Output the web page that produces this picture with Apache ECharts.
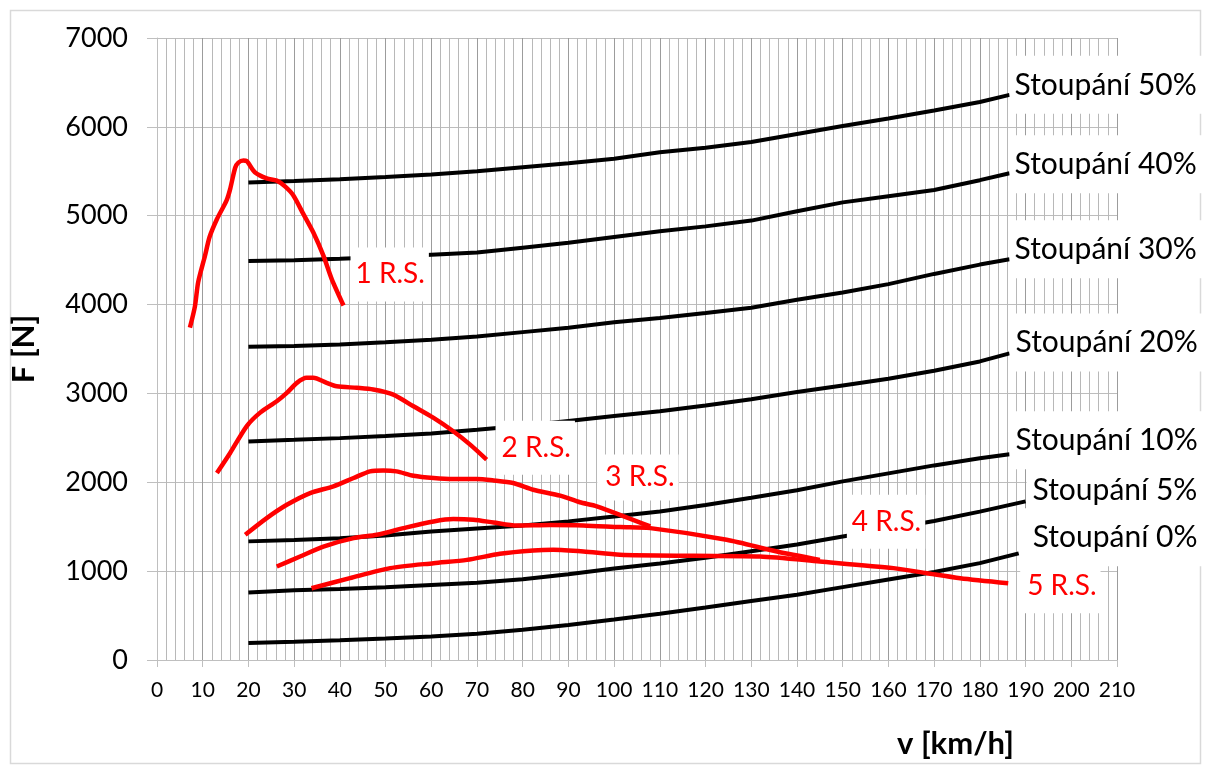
<!DOCTYPE html>
<html><head><meta charset="utf-8">
<script src="https://cdn.jsdelivr.net/npm/echarts@6/dist/echarts.min.js"></script>
<style>html,body{margin:0;padding:0;background:#fff}#c{width:1206px;height:769px}</style>
</head><body><div id="c"></div>
<script>
// Tick labels
const xTicks = [0,10,20,30,40,50,60,70,80,90,100,110,120,130,140,150,160,170,180,190,200,210];
const yTicks = [0,1000,2000,3000,4000,5000,6000,7000];

// Grade (Stoupání) curves: speed [km/h] and force [N]
const vGrade = [20,30,40,50,60,70,80,90,100,110,120,130,140,150,160,170,180,186.5];
const v5 = [20,30,40,50,60,70,80,90,100,110,120,130,140,150,160,170,180,190];
const v0 = [20,30,40,50,60,70,80,90,100,110,120,130,140,150,160,170,180,188.5];
const f50 = [5375,5390,5410,5435,5465,5500,5545,5590,5640,5715,5765,5830,5920,6010,6095,6185,6280,6360];
const f40 = [4490,4500,4515,4535,4560,4585,4640,4695,4760,4825,4880,4945,5050,5150,5220,5290,5400,5478];
const f30 = [3525,3535,3550,3575,3605,3640,3690,3740,3800,3850,3905,3965,4055,4135,4230,4345,4450,4510];
const f20 = [2460,2478,2497,2520,2550,2590,2635,2690,2745,2800,2865,2935,3015,3090,3165,3255,3360,3450];
const f10 = [1335,1350,1370,1400,1445,1480,1515,1560,1615,1672,1745,1825,1910,2010,2100,2190,2270,2315];
const f5  = [760,785,800,820,845,870,910,965,1030,1085,1150,1225,1300,1390,1475,1565,1670,1785];
const f0  = [190,205,222,242,265,295,340,395,455,520,590,665,735,820,905,990,1090,1200];

// Gear (R.S.) traction curves
const vR1 = [7.2,8.3,9.0,10.5,11.5,13.1,15.2,16.0,17.1,17.8,18.9,19.6,21.4,24.0,26.2,28.0,29.8,32.0,34.2,36.4,38.2,40.8];
const fR1 = [3740,3980,4250,4550,4760,4960,5170,5300,5540,5598,5620,5615,5490,5420,5395,5330,5230,5020,4810,4550,4290,3990];
const vR2 = [13.1,16.0,19.6,22.5,26.2,28.4,30.6,32.7,34.2,37.1,39.3,43.7,47.3,51.7,56.1,60.5,64.8,68.5,72.1];
const fR2 = [2104,2330,2630,2781,2912,3006,3119,3176,3176,3119,3081,3063,3044,2987,2855,2724,2574,2424,2255];
const vR3 = [19.3,24.0,28.4,33.5,38.6,43.0,46.6,49.5,52.4,56.1,60.5,64.8,69.9,73.6,77.9,82.3,88.2,92.5,96.2,107.9];
const fR3 = [1409,1597,1747,1879,1954,2048,2123,2134,2123,2074,2048,2037,2037,2021,1992,1916,1850,1775,1730,1503];
const vR4 = [26.2,31.3,36.4,43.0,48.1,54.6,60.5,64.8,69.2,73.6,78.7,86.0,93.3,101.3,107.9,124.6,135.6,145.0];
const fR4 = [1052,1165,1277,1372,1409,1492,1559,1586,1578,1548,1514,1520,1515,1496,1484,1353,1221,1127];
const vR5 = [33.8,42.2,51.0,60.5,67.8,75.0,82.3,86.7,93.3,101.3,117.3,131.9,145.0,161.1,168.4,175.7,186.2];
const fR5 = [808,921,1034,1090,1127,1195,1232,1240,1221,1184,1172,1165,1108,1034,977,921,865];

const FONT = 'Lato';
const pair = (xs, ys) => xs.map((x, i) => [x, ys[i]]);

function gradeSeries(name, xs, ys, off, padL) {
  return {
    name, type: 'line', data: pair(xs, ys), showSymbol: false, symbol: 'none',
    lineStyle: { color: '#000', width: 4 }, z: 2, silent: true,
    endLabel: {
      show: true, formatter: p => p.seriesName, color: '#000', fontFamily: FONT, fontSize: 30,
      backgroundColor: '#fff', padding: [14, 6, 14, padL], distance: 0, offset: off
    }
  };
}
function gearSeries(name, xs, ys, off, pad) {
  return {
    name, type: 'line', data: pair(xs, ys), showSymbol: false, symbol: 'none', smooth: 0.25,
    lineStyle: { color: '#ff0000', width: 4.5 }, z: 3, silent: true,
    endLabel: {
      show: true, formatter: p => p.seriesName, color: '#ff0000', fontFamily: FONT, fontSize: 28,
      backgroundColor: '#fff', padding: pad, distance: 0, offset: off
    }
  };
}

const chart = echarts.init(document.getElementById('c'), null, { renderer: 'canvas' });
chart.setOption({
  animation: false,
  backgroundColor: '#fff',
  grid: { left: 157, right: 89, top: 38, bottom: 109, containLabel: false },
  xAxis: {
    type: 'value', min: 0, max: 210, interval: 10,
    axisLine: { show: true, lineStyle: { color: '#bfbfbf', width: 1 } },
    axisTick: { show: true, length: 7, lineStyle: { color: '#bfbfbf' } },
    axisLabel: { color: '#000', fontFamily: FONT, fontSize: 21, margin: 20,
      formatter: v => xTicks.includes(v) ? String(v) : '' },
    splitLine: { show: true, lineStyle: { color: '#9c9c9c', width: 1 } },
    minorTick: { show: false, splitNumber: 5 },
    minorSplitLine: { show: true, lineStyle: { color: '#b8b8b8', width: 1 } }
  },
  yAxis: {
    type: 'value', min: 0, max: 7000, interval: 1000,
    name: 'F [N]', nameLocation: 'middle', nameRotate: 90, nameGap: 118,
    nameTextStyle: { color: '#000', fontFamily: FONT, fontSize: 31, fontWeight: 'bold' },
    axisLine: { show: true, lineStyle: { color: '#bfbfbf', width: 1 } },
    axisTick: { show: true, length: 10, lineStyle: { color: '#bfbfbf' } },
    axisLabel: { color: '#000', fontFamily: FONT, fontSize: 27, margin: 29,
      formatter: v => yTicks.includes(v) ? String(v) : '' },
    splitLine: { show: true, lineStyle: { color: '#bdbdbd', width: 1 } }
  },
  graphic: [
    { type: 'rect', left: 8, top: 8, shape: { x: 0, y: 0, width: 1190, height: 753 },
      style: { fill: 'none', stroke: '#d9d9d9', lineWidth: 1.5 }, silent: true, z: -10 },
    { type: 'text', left: 897, top: 728,
      style: { text: 'v [km/h]', fill: '#000', font: 'bold 31px Lato' } }
  ],
  series: [
    gradeSeries('Stoupání 50%', vGrade, f50, [0, -10], 5),
    gradeSeries('Stoupání 40%', vGrade, f40, [0, -9], 5),
    gradeSeries('Stoupání 30%', vGrade, f30, [0, -10], 5),
    gradeSeries('Stoupání 20%', vGrade, f20, [0, -11], 6),
    gradeSeries('Stoupání 10%', vGrade, f10, [0, -14], 6),
    gradeSeries('Stoupání 5%', v5, f5, [1, -11], 6),
    gradeSeries('Stoupání 0%', v0, f0, [2, -16], 12),
    gearSeries('1 R.S.', vR1, fR1, [7, -31], [13, 4, 13, 5]),
    gearSeries('2 R.S.', vR2, fR2, [9, -12], [13, 4, 13, 6]),
    gearSeries('3 R.S.', vR3, fR3, [-53, -49], [7, 4, 11, 8]),
    gearSeries('4 R.S.', vR4, fR4, [27, -38], [13, 4, 13, 5]),
    gearSeries('5 R.S.', vR5, fR5, [12, 3], [13, 4, 13, 7])
  ]
});
</script>
</body></html>
